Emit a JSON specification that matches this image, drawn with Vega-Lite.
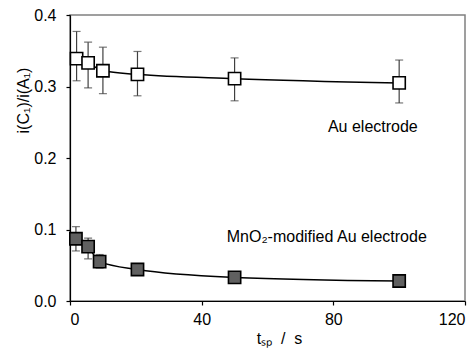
{
  "$schema": "https://vega.github.io/schema/vega-lite/v6.json",
  "autosize": "none",
  "width": 395,
  "height": 286,
  "padding": {"left": 70, "top": 15, "right": 11, "bottom": 49},
  "background": "white",
  "config": {
    "font": "Liberation Sans",
    "view": {"stroke": "#808080", "strokeWidth": 1.5},
    "axis": {
      "labelFont": "Liberation Sans", "titleFont": "Liberation Sans",
      "labelFontSize": 16, "titleFontSize": 16, "titleFontWeight": "normal",
      "labelColor": "black", "titleColor": "black",
      "domainColor": "black", "tickColor": "black", "domainWidth": 1.2, "tickWidth": 1.2,
      "grid": false, "tickSize": 4
    }
  },
  "datasets": {
    "pts": [
      {"series": "Au", "t": 2, "r": 0.339, "lo": 0.308, "hi": 0.377},
      {"series": "Au", "t": 5.5, "r": 0.333, "lo": 0.298, "hi": 0.362},
      {"series": "Au", "t": 10, "r": 0.322, "lo": 0.290, "hi": 0.355},
      {"series": "Au", "t": 20.5, "r": 0.317, "lo": 0.287, "hi": 0.349},
      {"series": "Au", "t": 50, "r": 0.311, "lo": 0.280, "hi": 0.340},
      {"series": "Au", "t": 100, "r": 0.305, "lo": 0.277, "hi": 0.337},
      {"series": "MnO2", "t": 1.8, "r": 0.087, "lo": 0.070, "hi": 0.104},
      {"series": "MnO2", "t": 5.5, "r": 0.076, "lo": 0.059, "hi": 0.088},
      {"series": "MnO2", "t": 9, "r": 0.055, "lo": 0.046, "hi": 0.065},
      {"series": "MnO2", "t": 20.5, "r": 0.044, "lo": 0.040, "hi": 0.048},
      {"series": "MnO2", "t": 50, "r": 0.033, "lo": 0.031, "hi": 0.035},
      {"series": "MnO2", "t": 100, "r": 0.028, "lo": 0.027, "hi": 0.029}
    ],
    "labels": [
      {"t": 92, "r": 0.243, "label": "Au electrode"},
      {"t": 78, "r": 0.090, "label": "MnO₂-modified Au electrode"}
    ]
  },
  "layer": [
    {
      "data": {"name": "pts"},
      "mark": {"type": "errorbar", "ticks": {"size": 8}, "color": "#404040", "thickness": 1.2},
      "encoding": {
        "x": {"field": "t", "type": "quantitative", "scale": {"domain": [0, 120]},
              "axis": {"values": [0, 40, 80, 120], "title": "tₛₚ\u00a0\u00a0/\u00a0\u00a0s", "labelPadding": 6, "titleX": 209, "titleY": 37, "titleBaseline": "middle"}},
        "y": {"field": "lo", "type": "quantitative", "scale": {"domain": [0, 0.4]},
              "axis": {"values": [0, 0.1, 0.2, 0.3, 0.4], "format": ".1f", "title": "i(C₁)/i(A₁)", "labelPadding": 10,
                       "titleX": -47, "titleY": 85, "titleAlign": "center", "titleBaseline": "middle", "titleAngle": -90}},
        "y2": {"field": "hi"}
      }
    },
    {
      "data": {"name": "pts"},
      "mark": {"type": "line", "interpolate": "monotone", "color": "black", "strokeWidth": 1.5},
      "encoding": {
        "x": {"field": "t", "type": "quantitative"},
        "y": {"field": "r", "type": "quantitative"},
        "detail": {"field": "series"}
      }
    },
    {
      "data": {"name": "pts"},
      "mark": {"type": "point", "shape": "square", "filled": true, "size": 150, "stroke": "black", "strokeWidth": 1.6, "opacity": 1},
      "encoding": {
        "x": {"field": "t", "type": "quantitative"},
        "y": {"field": "r", "type": "quantitative"},
        "fill": {"field": "series", "type": "nominal", "scale": {"domain": ["Au", "MnO2"], "range": ["#ffffff", "#606060"]}, "legend": null}
      }
    },
    {
      "data": {"name": "labels"},
      "mark": {"type": "text", "fontSize": 16, "font": "Liberation Sans", "color": "black"},
      "encoding": {
        "x": {"field": "t", "type": "quantitative"},
        "y": {"field": "r", "type": "quantitative"},
        "text": {"field": "label"}
      }
    }
  ]
}
